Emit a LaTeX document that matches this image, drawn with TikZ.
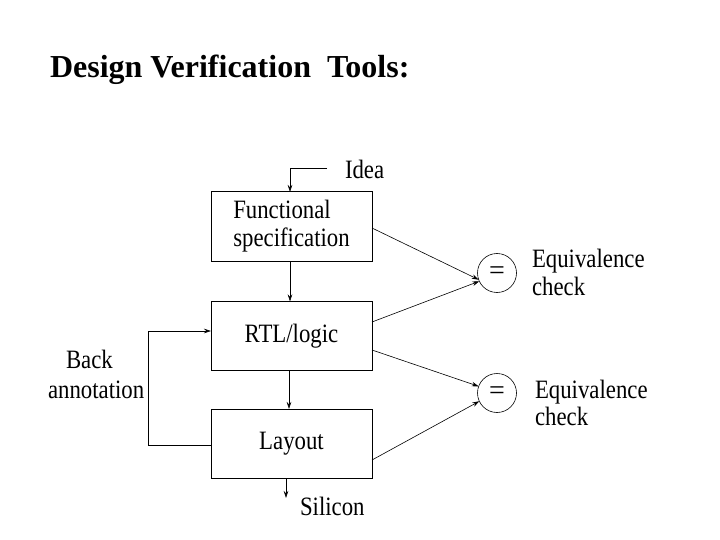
\documentclass[tikz,border=0pt]{standalone}
\usepackage{fontspec}
\setmainfont{Liberation Serif}
\newfontfamily\condfont[FakeStretch=0.86]{Liberation Serif}
\usetikzlibrary{arrows.meta}
\begin{document}
\begin{tikzpicture}[x=1pt,y=-1pt,
  every node/.style={inner sep=0pt,outer sep=0pt},
  lbl/.style={font=\condfont\fontsize{26.5}{28}\selectfont,anchor=base west},
  stagebox/.style={draw,line width=1pt,minimum width=161pt,minimum height=69pt,font=\condfont\fontsize{26.5}{28}\selectfont,align=left},
  eqc/.style={draw,circle,line width=0.6pt,minimum size=39pt,font=\fontsize{28}{28}\selectfont},
  conn/.style={line width=0.6pt,-{Stealth[length=7pt,width=4.5pt]}},
  wire/.style={line width=0.6pt}]
\useasboundingbox (0,0) rectangle (720,540);
\node[anchor=base west,font=\fontsize{32}{36}\selectfont\bfseries] (title) at (50,78) {Design Verification\ \ Tools:};

\node[stagebox] (fs) at (291.5,226.5) {Functional\\specification};
\node[stagebox] (rtl) at (291.5,336) {RTL/logic};
\node[stagebox] (lay) at (291.5,443.5) {Layout};

\node[eqc] (eq1) at (497,273) {=};
\node[eqc] (eq2) at (497,393) {=};

\node[lbl] (idea) at (345,179) {Idea};
\node[lbl] (sil) at (300,515) {Silicon};
\node[lbl] (e1a) at (532,267) {Equivalence};
\node[lbl] (e1b) at (532,295) {check};
\node[lbl] (e2a) at (535,398) {Equivalence};
\node[lbl] (e2b) at (535,425) {check};
\node[lbl] (ba1) at (66,368) {Back};
\node[lbl] (ba2) at (48,398) {annotation};

\coordinate (ideaS) at (327,168);
\coordinate (ideaK) at (290,168);
\draw[conn] (ideaS) -- (ideaK) -- (ideaK |- fs.north);
\draw[conn] (fs.south -| 290,0) -- (rtl.north -| 290,0);
\draw[conn] (rtl.south -| 289,0) -- (lay.north -| 289,0);
\coordinate (silE) at (286,498);
\draw[conn] (lay.south -| silE) -- (silE);

\coordinate (bkB) at (148,445);
\coordinate (bkT) at (148,331);
\draw[wire] (lay.west |- bkB) -- (bkB) -- (bkT);
\draw[conn] (bkT) -- (rtl.west |- bkT);

\draw[conn] (fs.east |- 0,228) -- (eq1.200);
\draw[conn] (rtl.east |- 0,322) -- (eq1.205);
\draw[conn] (rtl.east |- 0,350) -- (eq2.160);
\draw[conn] (lay.east |- 0,460) -- (eq2.205);
\end{tikzpicture}
\end{document}
